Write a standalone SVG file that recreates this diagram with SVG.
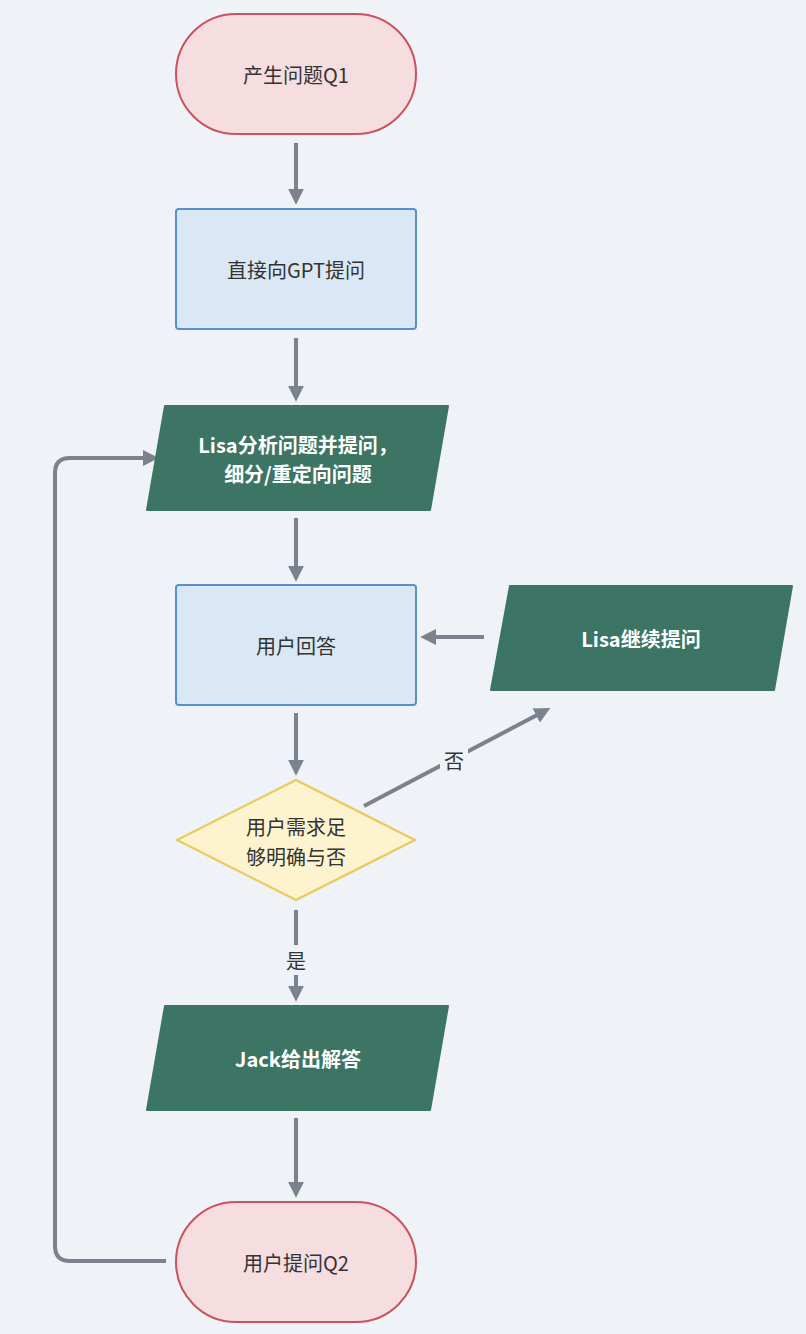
<svg xmlns="http://www.w3.org/2000/svg" width="806" height="1334" viewBox="0 0 806 1334">
<style>
text{font-family:"Noto Sans CJK SC","Noto Sans",sans-serif;font-size:20px;text-anchor:middle;dominant-baseline:central}
.term{fill:#f5dde0;stroke:#c9535f;stroke-width:2}
.proc{fill:#dae7f4;stroke:#5b8fcc;stroke-width:2}
.io{fill:#3c7563;stroke:#3c7563;stroke-width:2;stroke-linejoin:round}
.w{fill:#fff;font-weight:bold}
.d{fill:#333}
.c{fill:none;stroke:#7b828e;stroke-width:4;marker-end:url(#a)}
</style>
<defs><marker id="a" viewBox="0 0 10 10" refX="2" refY="5" markerWidth="4" markerHeight="4" orient="auto" markerUnits="strokeWidth"><path d="M0,0L10,5L0,10z" fill="#7b828e"/></marker></defs>
<rect width="806" height="1334" fill="#eff3f7"/>
<g id="connectors">
<path class="c" d="M296,143V192"/>
<path class="c" d="M296,338V389"/>
<path class="c" d="M296,518V569"/>
<path class="c" d="M296,713V763"/>
<path class="c" d="M296,910V989"/>
<path class="c" d="M296,1118V1185"/>
<path class="c" d="M484,637H433"/>
<path class="c" d="M364,806L539,714"/>
<path class="c" d="M166,1261H70Q55,1261 55,1246V473Q55,458 70,458H146"/>
<rect x="440" y="745" width="28" height="30" fill="#eff3f7"/>
<text x="454" y="760" class="d">否</text>
<rect x="282" y="945" width="28" height="30" fill="#eff3f7"/>
<text x="296" y="960" class="d">是</text>
</g>
<g id="n1"><rect class="term" x="176" y="14" width="240" height="120" rx="60"/><text x="296" y="74" class="d">产生问题Q1</text></g>
<g id="n2"><rect class="proc" x="176" y="209" width="240" height="120" rx="3"/><text x="296" y="269" class="d">直接向GPT提问</text></g>
<g id="n3"><polygon class="io" points="165,406 448,406 430,510 147,510"/><text x="298" y="444" class="w">Lisa分析问题并提问，</text><text x="298" y="473" class="w">细分/重定向问题</text></g>
<g id="n4"><rect class="proc" x="176" y="585" width="240" height="120" rx="3"/><text x="296" y="645" class="d">用户回答</text></g>
<g id="n5"><polygon class="io" points="510,586 792,586 774,690 491,690"/><text x="641" y="638" class="w">Lisa继续提问</text></g>
<g id="n6"><polygon points="296,780 415,840 296,900 177,840" fill="#fdf3cf" stroke="#e8c95a" stroke-width="2" stroke-linejoin="round"/><text x="296" y="826" class="d">用户需求足</text><text x="296" y="856" class="d">够明确与否</text></g>
<g id="n7"><polygon class="io" points="165,1006 448,1006 430,1110 147,1110"/><text x="298" y="1058" class="w">Jack给出解答</text></g>
<g id="n8"><rect class="term" x="176" y="1202" width="240" height="120" rx="60"/><text x="296" y="1262" class="d">用户提问Q2</text></g>
</svg>
